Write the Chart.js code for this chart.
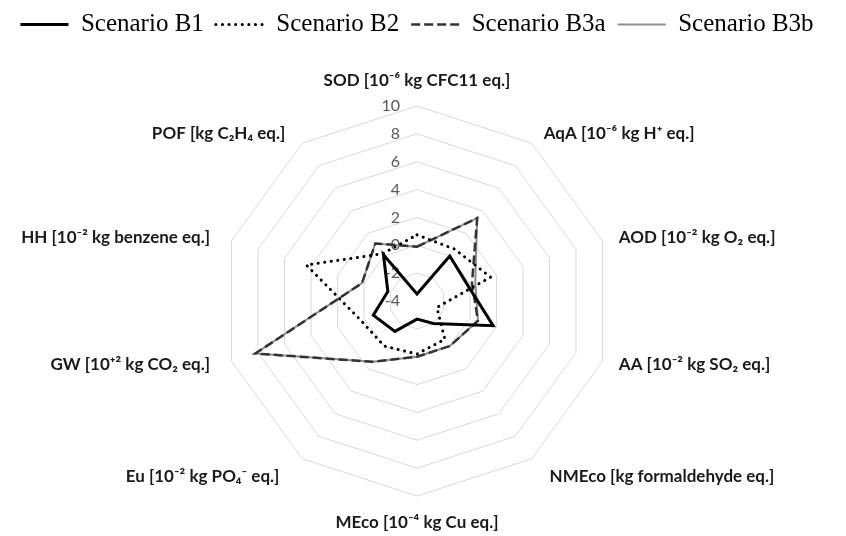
<!DOCTYPE html>
<html>
<head>
<meta charset="utf-8">
<script src="https://cdn.jsdelivr.net/npm/chart.js@4.4.1/dist/chart.umd.min.js"></script>
<style>
  html, body { margin: 0; padding: 0; background: #fff; }
  #wrap { width: 846px; height: 536px; position: relative; }
</style>
</head>
<body>
<div id="wrap"><canvas id="radarChart"></canvas></div>
<script>
// impact categories, clockwise from the top
const categories = [
  'SOD [10⁻⁶ kg CFC11 eq.]',
  'AqA [10⁻⁶ kg H⁺ eq.]',
  'AOD [10⁻² kg O₂ eq.]',
  'AA [10⁻² kg SO₂ eq.]',
  'NMEco [kg formaldehyde eq.]',
  'MEco [10⁻⁴ kg Cu eq.]',
  'Eu [10⁻² kg PO₄⁻ eq.]',
  'GW [10⁺² kg CO₂ eq.]',
  'HH [10⁻² kg benzene eq.]',
  'POF [kg C₂H₄ eq.]'
];
const seriesNames = ['Scenario B1', 'Scenario B2', 'Scenario B3a', 'Scenario B3b'];
const scenarioB1  = [-3.5, 0.0, -0.2, 1.75, -2.0, -2.7, -1.3, -0.7, -1.8, 0.1];
const scenarioB2  = [0.75, 0.6, 1.55, -2.5, -0.6, -0.2, 0.0, 0.3, 4.35, 0.2];
const scenarioB3a = [-0.1, 3.35, 0.15, 0.6, 0.0, 0.0, 1.4, 8.2, 0.15, 1.1];
const scenarioB3b = [-0.1, 3.35, 0.4, 0.6, 0.0, 0.0, 1.4, 8.2, 0.15, 1.1];
const tickMin = -4;
const tickMax = 10;
const tickStep = 2;

// extra room under the legend
const legendSpacer = {
  id: 'legendSpacer',
  beforeInit(chart) {
    const fit = chart.legend.fit;
    chart.legend.fit = function () {
      fit.call(this);
      this.height += 59;
    };
  }
};

// excel-like tick labels (left of the axis) and category labels
const axisText = {
  id: 'axisText',
  beforeDatasetsDraw(chart) {
    const scale = chart.scales.r;
    const ctx = chart.ctx;
    ctx.save();
    ctx.font = '16px Lato';
    ctx.fillStyle = '#595959';
    ctx.textAlign = 'right';
    ctx.textBaseline = 'middle';
    scale.ticks.forEach(t => {
      const d = scale.getDistanceFromCenterForValue(t.value);
      ctx.fillText(t.label, scale.xCenter - 17, scale.yCenter - d);
    });
    ctx.restore();
  },
  afterDraw(chart) {
    const scale = chart.scales.r;
    const ctx = chart.ctx;
    ctx.save();
    ctx.font = 'bold 17px Lato';
    ctx.fillStyle = '#1a1a1a';
    ctx.textBaseline = 'middle';
    const n = chart.data.labels.length;
    chart.data.labels.forEach((lab, i) => {
      let gap = 12;
      if (i === 0) gap = 25;
      if (i === n / 2) gap = 27;
      if (i === 4 || i === 6) gap = 22;
      const p = scale.getPointPosition(i, scale.drawingArea + gap);
      let x = p.x;
      if (i === 0 || i === n / 2) {
        ctx.textAlign = 'center';
      } else if (i < n / 2) {
        ctx.textAlign = 'left';
        x += 5;
      } else {
        ctx.textAlign = 'right';
        x -= 10;
      }
      ctx.fillText(lab, x, p.y);
    });
    ctx.restore();
  }
};

const ctx = document.getElementById('radarChart');
new Chart(ctx, {
  type: 'radar',
  data: {
    labels: categories,
    datasets: [
      {
        label: seriesNames[0],
        data: scenarioB1,
        borderColor: '#000000',
        backgroundColor: 'rgba(0,0,0,0)',
        borderWidth: 3,
        fill: false
      },
      {
        label: seriesNames[1],
        data: scenarioB2,
        borderColor: '#000000',
        backgroundColor: 'rgba(0,0,0,0)',
        borderWidth: 3,
        borderDash: [0.1, 6.5],
        borderCapStyle: 'round',
        fill: false
      },
      {
        label: seriesNames[2],
        data: scenarioB3a,
        borderColor: '#333333',
        backgroundColor: 'rgba(0,0,0,0)',
        borderWidth: 2.5,
        borderDash: [9, 4],
        fill: false
      },
      {
        label: seriesNames[3],
        data: scenarioB3b,
        borderColor: '#8c8c8c',
        backgroundColor: 'rgba(0,0,0,0)',
        borderWidth: 2,
        fill: false
      }
    ]
  },
  options: {
    responsive: true,
    maintainAspectRatio: false,
    animation: false,
    layout: { padding: { top: 0, bottom: 40, left: 0, right: 12 } },
    elements: {
      point: { radius: 0, hoverRadius: 0 },
      line: { tension: 0 }
    },
    plugins: {
      legend: {
        position: 'top',
        labels: {
          usePointStyle: true,
          pointStyleWidth: 48,
          boxHeight: 25,
          padding: 12,
          color: '#000',
          font: { family: 'Liberation Serif', size: 25 },
          generateLabels(chart) {
            return chart.data.datasets.map((ds, i) => ({
              text: ds.label,
              datasetIndex: i,
              hidden: !chart.isDatasetVisible(i),
              fillStyle: 'rgba(0,0,0,0)',
              strokeStyle: ds.borderColor,
              lineWidth: ds.borderWidth,
              lineDash: ds.borderDash || [],
              lineCap: ds.borderCapStyle || 'butt',
              pointStyle: 'line',
              fontColor: '#000'
            }));
          }
        }
      },
      tooltip: { enabled: false }
    },
    scales: {
      r: {
        min: tickMin,
        max: tickMax,
        ticks: { stepSize: tickStep, display: false },
        grid: { color: '#d9d9d9', lineWidth: 1 },
        angleLines: { display: false },
        pointLabels: { display: false }
      }
    }
  },
  plugins: [legendSpacer, axisText]
});
</script>
</body>
</html>
